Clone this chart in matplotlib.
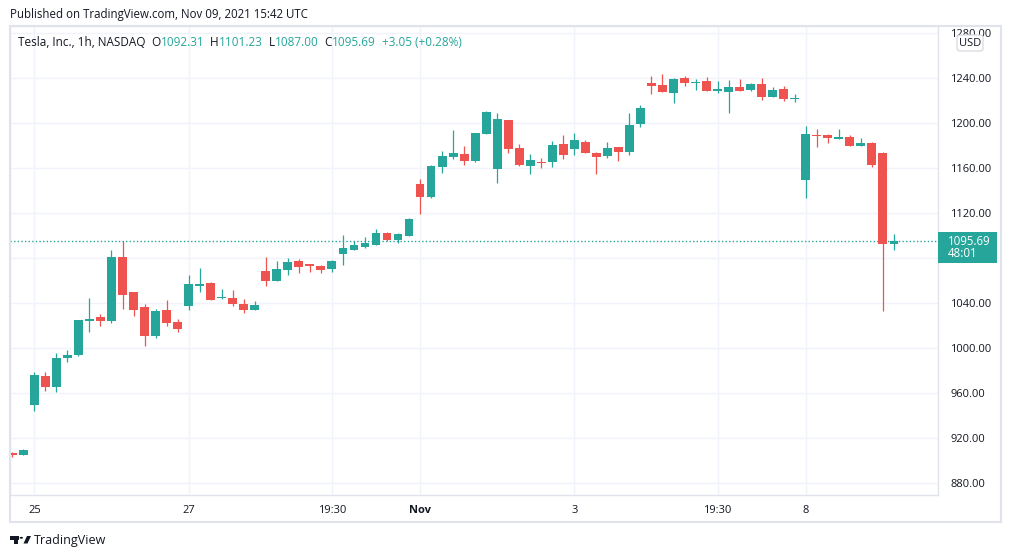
import matplotlib
matplotlib.use('Agg')
import matplotlib.pyplot as plt
import numpy as np
from matplotlib.patches import Rectangle, FancyBboxPatch, Polygon, Circle

# ---------------- data (Tesla 1h, Oct 22 - Nov 9 2021) ----------------
opens = [907.2, 905.4, 949.9, 975.4, 965.9, 991.6, 994.0, 1024.5, 1027.8, 1024.3,
         1081.2, 1050.0, 1036.7, 1010.9, 1034.0, 1023.4, 1037.6, 1055.4, 1058.0, 1044.7,
         1044.7, 1039.4, 1034.0, 1068.6, 1059.8, 1069.6, 1077.6, 1074.0, 1073.2, 1070.4,
         1083.8, 1087.4, 1090.0, 1091.8, 1102.5, 1096.3, 1099.8, 1146.0, 1134.4, 1161.1,
         1170.0, 1172.7, 1166.4, 1190.4, 1159.4, 1202.9, 1178.0, 1162.0, 1165.6, 1165.6,
         1181.6, 1177.1, 1183.4, 1173.6, 1170.9, 1178.9, 1174.5, 1199.4, 1235.6, 1233.8,
         1226.8, 1240.0, 1235.8, 1237.4, 1228.5, 1227.6, 1232.1, 1229.4, 1234.7, 1223.2,
         1230.3, 1221.7, 1149.6, 1189.8, 1189.6, 1186.0, 1187.8, 1179.8, 1182.5, 1173.6,
         1092.31]
highs = [908.1, 910.5, 978.9, 978.9, 995.8, 998.5, 1025.2, 1044.7, 1030.5, 1087.4,
         1095.4, 1050.0, 1039.4, 1035.0, 1042.9, 1026.0, 1065.1, 1071.4, 1058.5, 1052.7,
         1051.8, 1043.8, 1042.0, 1081.2, 1077.6, 1080.3, 1079.4, 1074.2, 1074.0, 1078.5,
         1100.7, 1095.4, 1099.0, 1106.0, 1103.4, 1102.5, 1115.8, 1150.5, 1162.9, 1175.4,
         1194.0, 1179.8, 1191.5, 1210.9, 1209.1, 1203.0, 1181.6, 1172.7, 1169.2, 1184.2,
         1189.6, 1191.3, 1185.1, 1174.5, 1183.4, 1179.0, 1209.1, 1216.3, 1241.9, 1243.6,
         1240.0, 1241.9, 1239.2, 1240.9, 1237.4, 1238.3, 1239.2, 1235.6, 1240.0, 1232.1,
         1233.1, 1226.0, 1197.5, 1194.9, 1190.4, 1194.9, 1189.6, 1186.9, 1183.4, 1174.5,
         1101.23]
lows = [903.6, 905.4, 944.3, 962.3, 961.4, 988.1, 993.2, 1014.8, 1019.8, 1022.5,
        1035.0, 1028.7, 1002.0, 1009.2, 1019.8, 1014.5, 1034.0, 1050.0, 1042.5, 1043.8,
        1037.6, 1031.4, 1034.0, 1055.4, 1059.8, 1065.1, 1067.0, 1068.1, 1067.0, 1067.8,
        1074.0, 1087.4, 1089.2, 1091.8, 1095.4, 1093.6, 1099.8, 1119.3, 1133.5, 1155.8,
        1168.2, 1162.9, 1166.0, 1190.4, 1146.9, 1173.6, 1162.0, 1154.7, 1160.2, 1161.1,
        1168.2, 1171.8, 1173.6, 1154.7, 1169.2, 1166.5, 1171.8, 1196.7, 1225.9, 1227.6,
        1217.8, 1233.1, 1229.4, 1228.5, 1226.8, 1209.1, 1228.5, 1228.5, 1220.5, 1223.2,
        1219.7, 1218.8, 1133.5, 1178.9, 1182.5, 1186.0, 1179.8, 1179.8, 1161.1, 1033.2,
        1087.00]
closes = [905.4, 909.6, 976.3, 965.9, 991.4, 994.0, 1025.2, 1026.0, 1024.3, 1081.2,
          1047.4, 1034.0, 1010.9, 1033.2, 1022.5, 1017.2, 1057.1, 1057.1, 1042.9, 1045.6,
          1039.4, 1034.0, 1038.5, 1059.8, 1070.4, 1076.7, 1072.3, 1073.4, 1069.6, 1077.6,
          1089.2, 1091.8, 1093.6, 1102.5, 1096.3, 1101.6, 1114.9, 1134.4, 1162.0, 1170.9,
          1173.6, 1166.4, 1191.3, 1210.0, 1203.8, 1177.1, 1162.9, 1167.4, 1164.7, 1180.7,
          1171.8, 1185.1, 1173.6, 1170.0, 1178.0, 1174.5, 1198.5, 1213.6, 1233.1, 1227.6,
          1239.2, 1235.6, 1236.5, 1228.5, 1230.3, 1232.1, 1228.5, 1234.7, 1223.2, 1229.4,
          1221.4, 1222.3, 1190.4, 1188.9, 1186.9, 1187.8, 1179.8, 1182.5, 1162.9, 1092.3,
          1095.69]

xtick_pos = [2, 16, 29, 37, 51, 64, 72]
xtick_labels = ['25', '27', '19:30', 'Nov', '3', '19:30', '8']
ytick_vals = [880, 920, 960, 1000, 1040, 1080, 1120, 1160, 1200, 1240, 1280]
ytick_hidden = [1080]          # covered by the last-price label in the reference
last_price = 1095.69
countdown = '48:01'
header_parts = [("Tesla, Inc., 1h, NASDAQ", 'dark'), ("  O", 'dark'), ("1092.31", 'val'),
                ("  H", 'dark'), ("1101.23", 'val'), ("  L", 'dark'), ("1087.00", 'val'),
                ("  C", 'dark'), ("1095.69", 'val'), ("  +3.05 (+0.28%)", 'val')]

# ---------------- style ----------------
GREEN = '#26a69a'
RED = '#ef5350'
DARK = '#131722'
GRID = '#f0f3fa'
FRAME = '#e0e3eb'
FONT = ['Open Sans', 'DejaVu Sans']
plt.rcParams['font.family'] = FONT
FS = 8.0
FS_HEAD = 8.5

W, H = 1012, 558
fig = plt.figure(figsize=(W / 100, H / 100), dpi=100)
fig.patch.set_facecolor('white')

def fx(px):
    return px / W

def fy(py):
    return 1 - py / H

ax = fig.add_axes([fx(10), fy(495), fx(938) - fx(10), fy(26) - fy(495)])
ax.set_facecolor('white')

idx = np.arange(len(opens))
o = np.array(opens); c = np.array(closes)
hi = np.array(highs); lo = np.array(lows)
up = c >= o
cols = np.where(up, GREEN, RED)
ax.vlines(idx, lo, hi, colors=cols, linewidth=0.9, zorder=3)
bottoms = np.minimum(o, c)
heights = np.maximum(np.abs(c - o), 1.1)
ax.bar(idx, heights, bottom=bottoms, width=0.8, color=cols, linewidth=0, zorder=4)

ax.axhline(last_price, color=GREEN, linewidth=1.0, linestyle=(0, (1, 1.6)), zorder=2)

ax.set_xlim(-0.21, 84.0)
ax.set_ylim(869.6, 1286.5)

ax.set_yticks(ytick_vals)
ax.set_yticklabels(['' if v in ytick_hidden else f'{v:.2f}' for v in ytick_vals])
ax.set_xticks(xtick_pos)
ax.set_xticklabels(xtick_labels)
for lab in ax.get_xticklabels():
    if lab.get_text() == 'Nov':
        lab.set_fontweight('bold')
ax.yaxis.tick_right()
ax.tick_params(axis='y', length=0, pad=9, labelsize=FS, labelcolor=DARK)
ax.tick_params(axis='x', length=0, pad=7, labelsize=FS, labelcolor=DARK)
ax.grid(True, color=GRID, linewidth=1.0, zorder=0)
ax.set_axisbelow(True)
for s in ax.spines.values():
    s.set_color(FRAME)
    s.set_linewidth(1.0)

# outer frame
fig.patches.append(Rectangle((fx(10), fy(522)), fx(1001) - fx(10), fy(26) - fy(522),
                             transform=fig.transFigure, fill=False, edgecolor=FRAME,
                             linewidth=1.5, zorder=0))

# USD box
fig.patches.append(FancyBboxPatch((fx(957), fy(51)), fx(983) - fx(957), fy(35) - fy(51),
                                  boxstyle='round,pad=0,rounding_size=0.004',
                                  transform=fig.transFigure, facecolor='white',
                                  edgecolor='#d1d4dc', linewidth=0.8, zorder=5))
fig.text(fx(970), fy(43.5), 'USD', ha='center', va='center', fontsize=FS, color=DARK, zorder=6)

# last price label
fig.canvas.draw()
ydisp = ax.transData.transform((0, last_price))[1]
ypix = H - ydisp
fig.patches.append(Rectangle((fx(938), fy(ypix + 22)), fx(997) - fx(938), 31 / H,
                             transform=fig.transFigure, facecolor=GREEN, edgecolor='none', zorder=5))
fig.text(fx(948), fy(ypix + 0.5), f'{last_price:.2f}', ha='left', va='center',
         fontsize=FS + 0.3, color='white', zorder=6)
fig.text(fx(948), fy(ypix + 13), countdown, ha='left', va='center',
         fontsize=FS + 0.3, color='white', zorder=6)

# top texts
fig.text(fx(10), fy(14.5), 'Published on TradingView.com, Nov 09, 2021 15:42 UTC',
         ha='left', va='center', fontsize=8.3, color=DARK)
anchor = fig.text(fx(18), fy(42.5), header_parts[0][0], ha='left', va='center',
                  fontsize=FS_HEAD, color=DARK)
for txt, kind in header_parts[1:]:
    anchor = ax.annotate(txt, xy=(1, 0), xycoords=anchor, xytext=(0, 0),
                         textcoords='offset points', ha='left', va='bottom',
                         fontsize=FS_HEAD, color=(GREEN if kind == 'val' else DARK),
                         annotation_clip=False)

# TradingView logo at bottom
logo_col = DARK
fig.patches.append(Polygon([(fx(10), fy(536)), (fx(19), fy(536)), (fx(19), fy(539.5)),
                            (fx(17.5), fy(539.5)), (fx(17.5), fy(543.5)), (fx(14), fy(543.5)),
                            (fx(14), fy(539.5)), (fx(10), fy(539.5))],
                           closed=True, transform=fig.transFigure, facecolor=logo_col,
                           edgecolor='none'))
fig.patches.append(Circle((fx(21.3), fy(537.8)), 1.7 / W, transform=fig.transFigure,
                          facecolor=logo_col, edgecolor='none'))
fig.patches.append(Polygon([(fx(27), fy(536)), (fx(31), fy(536)), (fx(27.5), fy(543.5)),
                            (fx(23.5), fy(543.5))], closed=True, transform=fig.transFigure,
                           facecolor=logo_col, edgecolor='none'))
fig.text(fx(34), fy(540.5), 'TradingView', ha='left', va='center', fontsize=9.0, color=DARK)

fig.savefig('out.png', dpi=100, facecolor='white')
